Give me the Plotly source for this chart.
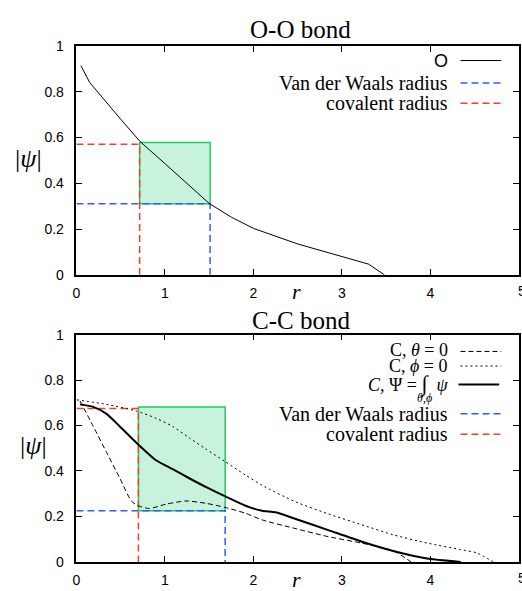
import plotly.graph_objects as go

# ---------------- data ----------------
# O-O bond
r_O = [0.05, 0.15, 0.5, 0.72, 1.0, 1.25, 1.5, 1.75, 2.0, 2.5, 3.0, 3.3, 3.48]
psi_O = [0.914, 0.84, 0.68, 0.582, 0.486, 0.40, 0.312, 0.252, 0.203, 0.135, 0.079, 0.047, 0.0]
O_cov_r, O_cov_psi = 0.714, 0.571
O_vdw_r, O_vdw_psi = 1.51, 0.311
O_box_top = 0.578

# C-C bond
r_Cpsi = [0.04, 0.19, 0.34, 0.49, 0.695, 0.90, 1.087, 1.274, 1.46, 1.677, 1.91, 2.096, 2.25,
          2.47, 2.845, 3.218, 3.59, 3.96, 4.34]
C_Psi = [0.693, 0.682, 0.651, 0.596, 0.518, 0.447, 0.408, 0.368, 0.33, 0.289, 0.247, 0.225, 0.218,
         0.19, 0.14, 0.09, 0.047, 0.015, 0.0]

r_Cphi = [0.004, 0.34, 0.676, 0.90, 1.087, 1.274, 1.46, 1.677, 1.91, 2.096, 2.47, 2.845, 3.218,
          3.59, 3.96, 4.34, 4.52, 4.71]
C_phi0 = [0.713, 0.693, 0.664, 0.632, 0.596, 0.546, 0.497, 0.442, 0.382, 0.337, 0.265, 0.211, 0.164,
          0.118, 0.083, 0.054, 0.04, 0.0]

r_Ctheta = [0.041, 0.19, 0.34, 0.49, 0.62, 0.695, 0.826, 1.01, 1.237, 1.46, 1.677, 1.91, 2.096,
            2.47, 2.845, 3.218, 3.59, 3.78]
C_theta0 = [0.708, 0.596, 0.482, 0.368, 0.268, 0.247, 0.235, 0.254, 0.268, 0.258, 0.24, 0.214, 0.185,
            0.147, 0.111, 0.083, 0.047, 0.0]

C_cov_r, C_cov_psi = 0.70, 0.675
C_vdw_r, C_vdw_psi = 1.68, 0.225
C_box_top = 0.681

x_ticks = [0, 1, 2, 3, 4, 5]
y_ticks = [0, 0.2, 0.4, 0.6, 0.8, 1]

# ---------------- style ----------------
W, H = 522, 591
RED = "#f5402c"
BLUE = "#2f5cff"
GREEN = "#1fcc64"
FILL = "rgba(0,200,100,0.22)"
SERIF = "Liberation Serif"
SANS = "Liberation Sans"


def fx(px):
    return px / W


def fy(py):
    return 1 - py / H


fig = go.Figure()


def add_panel(xa, ya, cov_r, cov_psi, vdw_r, vdw_psi, box_top):
    # shaded box between covalent and vdW radius
    fig.add_trace(go.Scatter(
        x=[cov_r, vdw_r, vdw_r, cov_r, cov_r],
        y=[vdw_psi, vdw_psi, box_top, box_top, vdw_psi],
        mode="lines", fill="toself", fillcolor=FILL,
        line=dict(color=GREEN, width=1.5), xaxis=xa, yaxis=ya, showlegend=False,
        hoverinfo="skip"))
    # covalent radius (red dashed)
    fig.add_trace(go.Scatter(
        x=[0, cov_r, cov_r], y=[cov_psi, cov_psi, 0], mode="lines",
        line=dict(color=RED, width=1.5, dash="7px,4px"), xaxis=xa, yaxis=ya,
        showlegend=False))
    # vdW radius (blue dashed)
    fig.add_trace(go.Scatter(
        x=[0, vdw_r, vdw_r], y=[vdw_psi, vdw_psi, 0], mode="lines",
        line=dict(color=BLUE, width=1.5, dash="7px,4px"), xaxis=xa, yaxis=ya,
        showlegend=False))


add_panel("x", "y", O_cov_r, O_cov_psi, O_vdw_r, O_vdw_psi, O_box_top)
fig.add_trace(go.Scatter(x=r_O, y=psi_O, mode="lines", line=dict(color="black", width=1),
                         xaxis="x", yaxis="y", showlegend=False))

add_panel("x2", "y2", C_cov_r, C_cov_psi, C_vdw_r, C_vdw_psi, C_box_top)
fig.add_trace(go.Scatter(x=r_Ctheta, y=C_theta0, mode="lines",
                         line=dict(color="black", width=1, dash="5px,3px", shape="spline",
                                   smoothing=0.6),
                         xaxis="x2", yaxis="y2", showlegend=False))
fig.add_trace(go.Scatter(x=r_Cphi, y=C_phi0, mode="lines",
                         line=dict(color="black", width=1, dash="2px,3px", shape="spline",
                                   smoothing=0.6),
                         xaxis="x2", yaxis="y2", showlegend=False))
fig.add_trace(go.Scatter(x=r_Cpsi, y=C_Psi, mode="lines",
                         line=dict(color="black", width=2, shape="spline", smoothing=0.6),
                         xaxis="x2", yaxis="y2", showlegend=False))

axis_common = dict(showline=True, linecolor="black", linewidth=1.5, mirror="ticks",
                   ticks="inside", ticklen=6, tickwidth=1.2, tickcolor="black",
                   showgrid=False, zeroline=False,
                   tickfont=dict(family=SANS, size=14, color="black"))

xdom = [fx(73), fx(519)]
fig.update_layout(
    width=W, height=H,
    margin=dict(l=0, r=0, t=0, b=0),
    paper_bgcolor="white", plot_bgcolor="white",
    showlegend=False,
    xaxis=dict(domain=xdom, range=[0, 5], tickvals=x_ticks, anchor="y",
               ticklabelstandoff=5, **axis_common),
    yaxis=dict(domain=[fy(274.3), fy(39)], range=[0, 1], tickvals=y_ticks, anchor="x",
               ticklabelstandoff=8, **axis_common),
    xaxis2=dict(domain=xdom, range=[0, 5], tickvals=x_ticks, anchor="y2",
                ticklabelstandoff=5, **axis_common),
    yaxis2=dict(domain=[fy(569.3), fy(335.7)], range=[0, 1], tickvals=y_ticks, anchor="x2",
                ticklabelstandoff=8, **axis_common),
)

ann = []


def text(px, py, s, size, xanchor="center", family=SERIF):
    ann.append(dict(x=fx(px), y=fy(py), xref="paper", yref="paper", text=s, showarrow=False,
                    xanchor=xanchor, yanchor="middle",
                    font=dict(family=family, size=size, color="black")))


shapes = []


def sample(py, color, width, dash, x0=460, x1=501):
    shapes.append(dict(type="line", xref="paper", yref="paper", x0=fx(x0), x1=fx(x1),
                       y0=fy(py), y1=fy(py), line=dict(color=color, width=width, dash=dash)))


# titles and axis labels
text(299, 22, "O-O bond", 25)
text(299, 321, "C-C bond", 25)
text(25, 155, "|<i>ψ</i>|", 26)
text(30, 450, "|<i>ψ</i>|", 26)
text(295, 291, "<i>r</i>", 22)
text(295, 587, "<i>r</i>", 22)

# right-edge "5" tick labels (cut by the page edge as in the original)
text(522, 291, "5", 14, "center", SANS)
text(522, 586, "5", 14, "center", SANS)

# legend, top panel
text(449, 54, "O", 18, "right", SANS)
sample(54, "black", 1, "solid")
text(449, 77, "Van der Waals radius", 20, "right")
sample(77, BLUE, 1.5, "7px,4px")
text(449, 98, "covalent radius", 20, "right")
sample(98, RED, 1.5, "7px,4px")

# legend, bottom panel
text(449, 352, "C, <i>θ</i> = 0", 18, "right")
sample(353, "black", 1, "5px,3px")
text(449, 368, "C, <i>ϕ</i> = 0", 18, "right")
sample(368, "black", 1, "2px,3px")
text(449, 386, "<i>C</i>, Ψ = <span style='font-size:22px'>∫</span>  <i>ψ</i>", 18, "right")
sample(387, "black", 2, "solid", 458, 499)
text(424, 401, "<i>θ</i>,<i>ϕ</i>", 12)
text(449, 417, "Van der Waals radius", 20, "right")
sample(417, BLUE, 1.5, "7px,4px")
text(449, 438, "covalent radius", 20, "right")
sample(438, RED, 1.5, "7px,4px")

fig.update_layout(annotations=ann, shapes=shapes)
fig.write_html("out.html")
